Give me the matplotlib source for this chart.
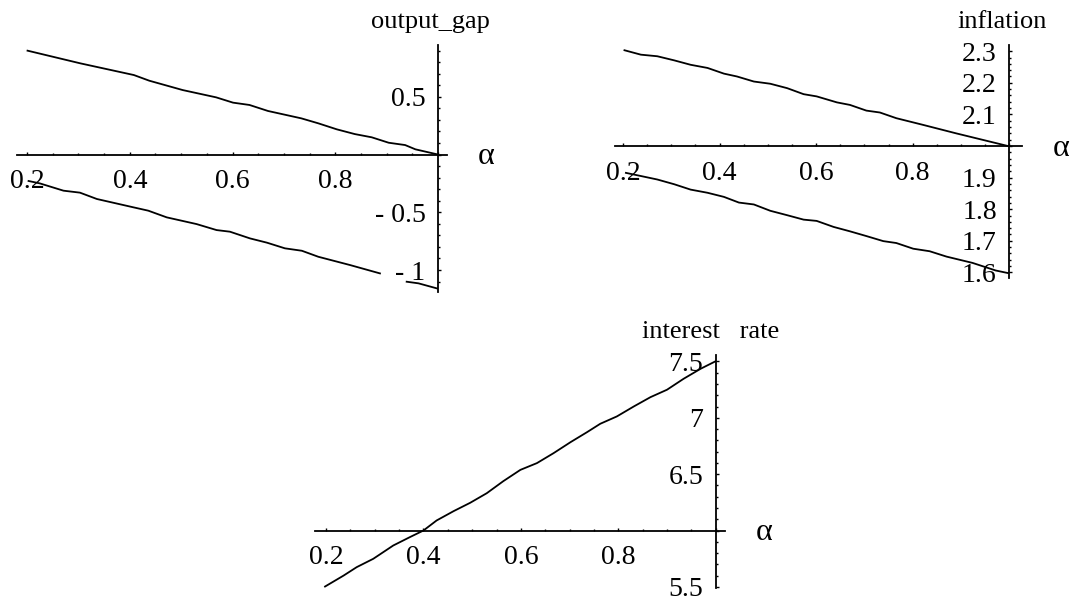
import numpy as np
import matplotlib
matplotlib.use("Agg")
import matplotlib.pyplot as plt
from matplotlib.ticker import FixedLocator, FixedFormatter, MultipleLocator

# ---- data -------------------------------------------------------------
# output gap: upper and lower bound as functions of alpha
gap_upper_alpha = [0.201, 0.304, 0.408, 0.438, 0.503, 0.568, 0.601, 0.633, 0.669,
                   0.734, 0.767, 0.803, 0.838, 0.871, 0.904, 0.936, 0.956, 1.0]
gap_upper = [0.899, 0.789, 0.688, 0.639, 0.558, 0.495, 0.449, 0.429, 0.377,
             0.313, 0.270, 0.218, 0.177, 0.149, 0.102, 0.082, 0.045, 0.0]
gap_lower_alpha = [0.203, 0.225, 0.271, 0.303, 0.336, 0.407, 0.436, 0.472, 0.530,
                   0.569, 0.595, 0.634, 0.667, 0.702, 0.735, 0.767, 0.829, 0.887,
                   0.913, 0.939, 0.962, 0.998]
gap_lower = [-0.229, -0.250, -0.313, -0.330, -0.385, -0.457, -0.486, -0.544, -0.602,
             -0.654, -0.668, -0.726, -0.763, -0.812, -0.833, -0.885, -0.957, -1.029,
             np.nan, -1.101, -1.115, -1.159]

# inflation: upper and lower bound
infl_upper_alpha = [0.203, 0.237, 0.271, 0.306, 0.340, 0.375, 0.409, 0.436, 0.471,
                    0.505, 0.540, 0.574, 0.601, 0.643, 0.670, 0.704, 0.732, 0.766,
                    0.821, 0.890, 0.997]
infl_upper = [2.303, 2.289, 2.284, 2.271, 2.257, 2.247, 2.229, 2.220, 2.204,
              2.197, 2.183, 2.164, 2.157, 2.138, 2.130, 2.112, 2.106, 2.088,
              2.067, 2.040, 2.000]
infl_lower_alpha = [0.206, 0.237, 0.271, 0.306, 0.340, 0.375, 0.409, 0.440, 0.471,
                    0.505, 0.540, 0.574, 0.601, 0.636, 0.670, 0.704, 0.739, 0.766,
                    0.801, 0.835, 0.870, 0.924, 0.972, 0.997]
infl_lower = [1.915, 1.905, 1.894, 1.879, 1.862, 1.852, 1.839, 1.821, 1.815,
              1.795, 1.781, 1.767, 1.763, 1.744, 1.730, 1.715, 1.699, 1.693,
              1.675, 1.667, 1.650, 1.630, 1.606, 1.598]

# interest rate
rate_alpha = [0.198, 0.236, 0.263, 0.297, 0.338, 0.372, 0.400, 0.427, 0.462,
              0.496, 0.530, 0.564, 0.599, 0.633, 0.667, 0.702, 0.736, 0.763,
              0.797, 0.832, 0.866, 0.900, 0.934, 0.969, 0.999]
rate = [5.503, 5.600, 5.675, 5.749, 5.867, 5.941, 6.000, 6.089, 6.172,
        6.246, 6.331, 6.438, 6.538, 6.598, 6.686, 6.784, 6.873, 6.947,
        7.012, 7.101, 7.183, 7.249, 7.346, 7.435, 7.500]

alpha_ticks = [0.2, 0.4, 0.6, 0.8, 1.0]
alpha_ticklabels = ["0.2", "0.4", "0.6", "0.8", ""]

gap_ticks = [-1.0, -0.5, 0.0, 0.5]
gap_ticklabels = ["- 1", "- 0.5", "", "0.5"]
infl_ticks = [1.6, 1.7, 1.8, 1.9, 2.0, 2.1, 2.2, 2.3]
infl_ticklabels = ["1.6", "1.7", "1.8", "1.9", "", "2.1", "2.2", "2.3"]
rate_ticks = [5.5, 6.0, 6.5, 7.0, 7.5]
rate_ticklabels = ["5.5", "", "6.5", "7", "7.5"]

# ---- figure -----------------------------------------------------------
W, H = 1073, 598
plt.rcParams["font.family"] = ["Liberation Serif", "DejaVu Serif"]
fig = plt.figure(figsize=(W / 100, H / 100), dpi=100)


def make_axes(box, xlim, ylim, origin_y, yticks, yticklabels, yminor, title,
              title_dx=-5.5, alpha_dx=35):
    x0, y0, x1, y1 = box
    ax = fig.add_axes([x0 / W, 1 - y1 / H, (x1 - x0) / W, (y1 - y0) / H])
    ax.set_xlim(*xlim)
    ax.set_ylim(*ylim)
    ax.patch.set_alpha(0)
    for s in ("top", "right"):
        ax.spines[s].set_visible(False)
    ax.spines["left"].set_position(("data", 1.0))
    ax.spines["bottom"].set_position(("data", origin_y))
    for s in ("left", "bottom"):
        ax.spines[s].set_linewidth(1.3)
    ax.xaxis.set_major_locator(FixedLocator(alpha_ticks))
    ax.xaxis.set_major_formatter(FixedFormatter(alpha_ticklabels))
    ax.xaxis.set_minor_locator(MultipleLocator(0.05))
    ax.yaxis.set_major_locator(FixedLocator(yticks))
    ax.yaxis.set_major_formatter(FixedFormatter(yticklabels))
    ax.yaxis.set_minor_locator(MultipleLocator(yminor))
    ax.tick_params(which="both", direction="in", width=1.0, labelsize=20)
    ax.tick_params(which="major", length=2.2)
    ax.tick_params(which="minor", length=1.3)
    ax.tick_params(axis="x", pad=10.5)
    ax.tick_params(axis="y", pad=9)
    ax.annotate(title, xy=(1.0, ylim[1]), xycoords="data",
                xytext=(title_dx, 12.5), textcoords="offset points",
                ha="center", va="baseline", fontsize=19, annotation_clip=False)
    ax.annotate("α", xy=(1.0, origin_y), xycoords="data",
                xytext=(alpha_dx, -1.5), textcoords="offset points",
                ha="center", va="center", fontsize=23, annotation_clip=False)
    return ax


ax1 = make_axes((17, 45, 447, 292), (0.1805, 1.0175), (-1.190, 0.948), 0.0,
                gap_ticks, gap_ticklabels, 0.1, "output_gap")
ax1.plot(gap_upper_alpha, gap_upper, color="black", lw=1.3)
ax1.plot(gap_lower_alpha, gap_lower, color="black", lw=1.3)

ax2 = make_axes((615, 45, 1022, 278), (0.1834, 1.0263), (1.5823, 2.3196), 2.0,
                infl_ticks, infl_ticklabels, 0.02, "inflation", alpha_dx=37)
ax2.plot(infl_upper_alpha, infl_upper, color="black", lw=1.3)
ax2.plot(infl_lower_alpha, infl_lower, color="black", lw=1.3)

ax3 = make_axes((315, 355, 725, 588), (0.1774, 1.019), (5.490, 7.557), 6.0,
                rate_ticks, rate_ticklabels, 0.1, "interest   rate", title_dx=-3.5)
ax3.plot(rate_alpha, rate, color="black", lw=1.3)

fig.savefig("out.png", dpi=100, facecolor="white")
